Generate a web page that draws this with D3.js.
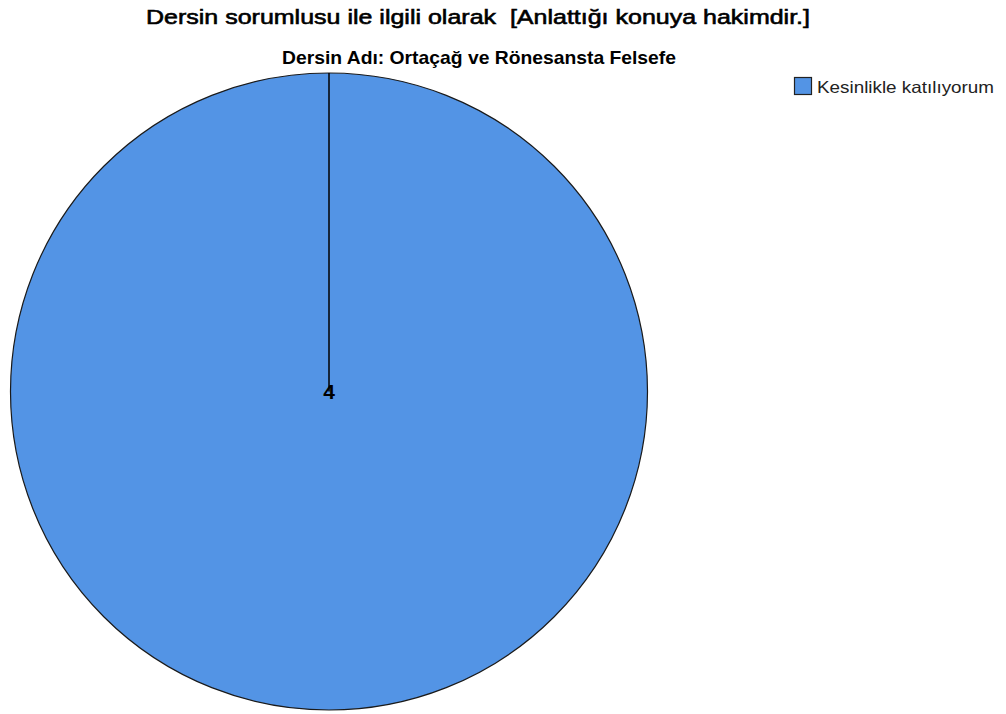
<!DOCTYPE html>
<html><head><meta charset="utf-8">
<script src="https://cdn.jsdelivr.net/npm/d3@7"></script>
<style>body{margin:0;background:#fff;} svg{display:block;} text{white-space:pre;}</style>
</head><body>
<svg id="c" width="1006" height="714"></svg>
<script>
const categories = ["Kesinlikle katılıyorum"];
const values = [4];
const colors = ["#5394e5"];
const title = "Dersin sorumlusu ile ilgili olarak  [Anlattığı konuya hakimdir.]";
const subtitle = "Dersin Adı: Ortaçağ ve Rönesansta Felsefe";

const svg = d3.select("#c");
svg.append("text").attr("x", 146).attr("y", 24)
  .attr("font-family", "Liberation Sans, Arial, sans-serif")
  .attr("font-size", 20.5).attr("fill", "#000").attr("stroke", "#000").attr("stroke-width", 0.6)
  .attr("textLength", 664).attr("lengthAdjust", "spacingAndGlyphs").text(title);
svg.append("text").attr("x", 282).attr("y", 64)
  .attr("font-family", "Liberation Sans Narrow, Arial Narrow, Liberation Sans, sans-serif").attr("font-weight", "bold")
  .attr("font-size", 18.5).attr("fill", "#000")
  .attr("textLength", 394).attr("lengthAdjust", "spacingAndGlyphs").text(subtitle);

const cx = 329, cy = 391.5, r = 318.5;
const g = svg.append("g").attr("transform", `translate(${cx},${cy})`);
const pie = d3.pie().sort(null).value(d => d);
const arcs = pie(values);
const arc = d3.arc().innerRadius(0).outerRadius(r);
g.selectAll("path.slice").data(arcs).join("path").attr("class", "slice")
  .attr("d", arc).attr("fill", (d, i) => colors[i]).attr("stroke", "#1a1a1a").attr("stroke-width", 1.2);
g.selectAll("line.edge").data(arcs).join("line").attr("class", "edge")
  .attr("x1", 0).attr("y1", 0)
  .attr("x2", d => r * Math.sin(d.startAngle)).attr("y2", d => -r * Math.cos(d.startAngle))
  .attr("stroke", "#000").attr("stroke-width", 1.5);
g.selectAll("text.lbl").data(arcs).join("text").attr("class", "lbl")
  .attr("x", d => arcs.length === 1 ? 0 : arc.centroid(d)[0])
  .attr("y", d => (arcs.length === 1 ? 0 : arc.centroid(d)[1]) + 7.5)
  .attr("text-anchor", "middle").attr("font-family", "Liberation Sans, Arial, sans-serif")
  .attr("font-weight", "bold").attr("font-size", 21).attr("fill", "#000").text(d => d.data);

const leg = svg.append("g").attr("transform", "translate(794,77)");
const li = leg.selectAll("g").data(categories).join("g").attr("transform", (d, i) => `translate(0,${i * 22})`);
li.append("rect").attr("x", 0.5).attr("y", 0.5).attr("width", 17).attr("height", 17)
  .attr("fill", (d, i) => colors[i]).attr("stroke", "#222").attr("stroke-width", 1.2);
li.append("text").attr("x", 23).attr("y", 16).attr("font-family", "Liberation Sans, Arial, sans-serif")
  .attr("font-size", 16.5).attr("fill", "#222")
  .attr("textLength", 177).attr("lengthAdjust", "spacingAndGlyphs").text(d => d);
</script>
</body></html>
